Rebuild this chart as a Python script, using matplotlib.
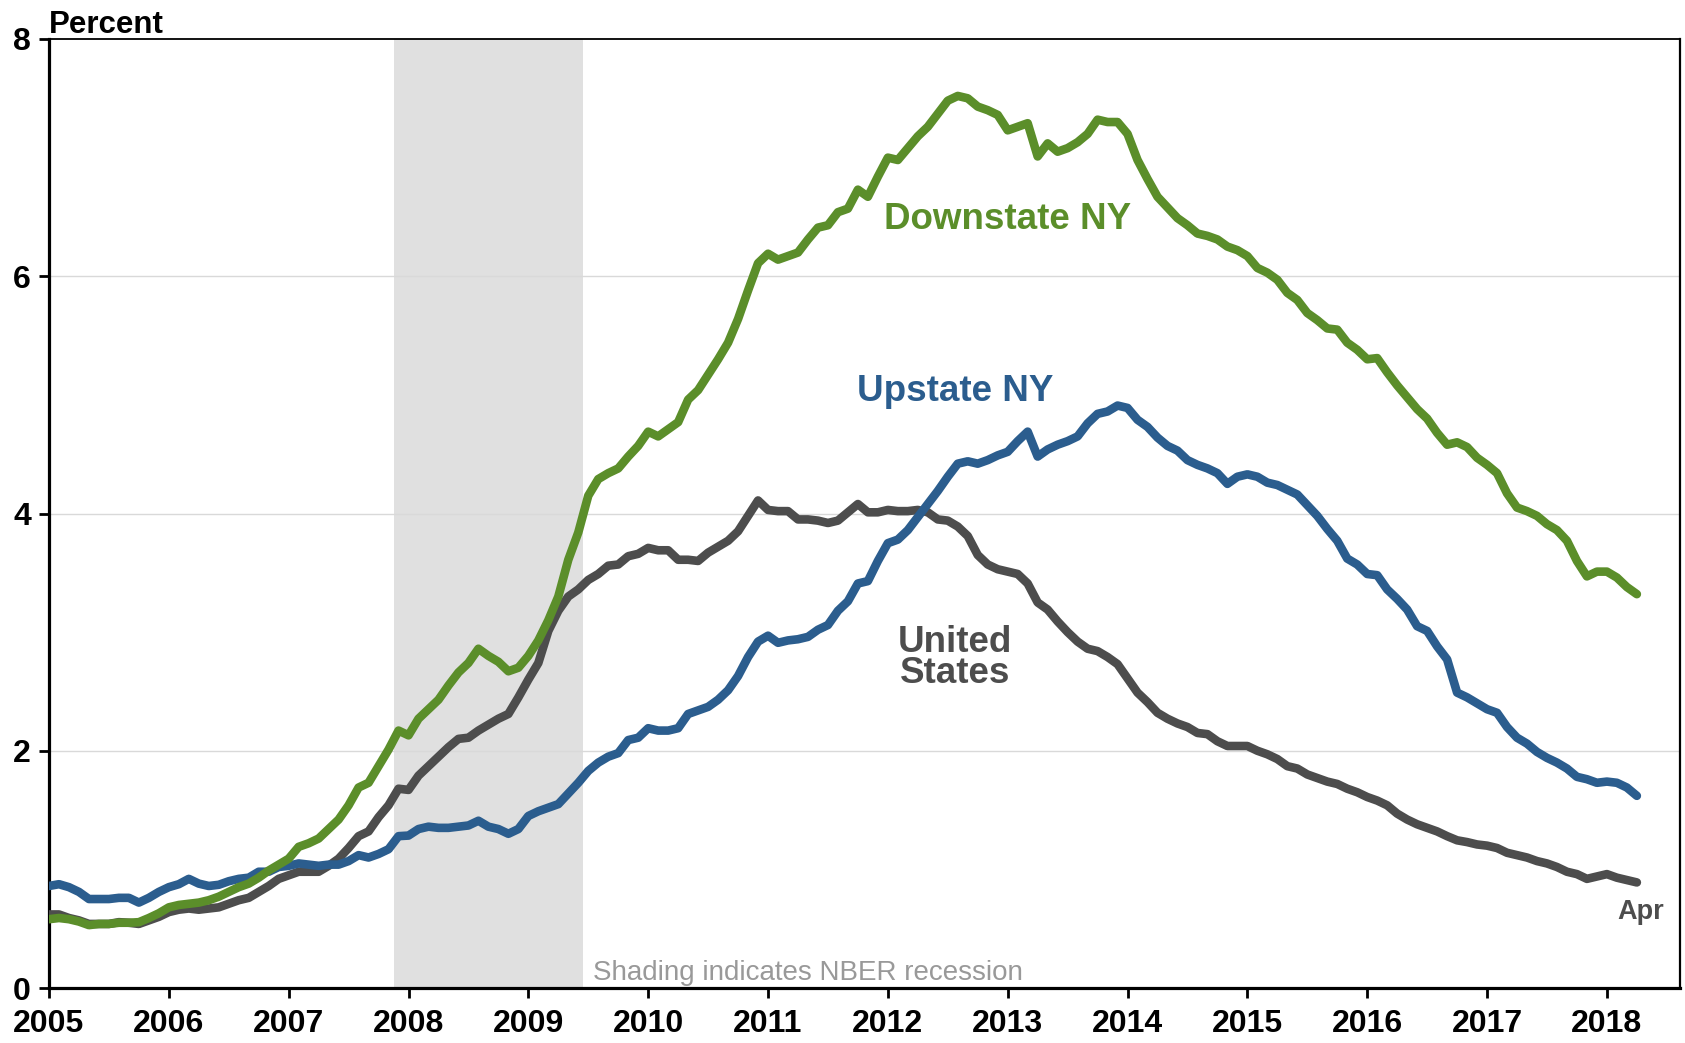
import numpy as np
import matplotlib
matplotlib.use("Agg")
import matplotlib.pyplot as plt

plt.rcParams['font.family'] = ['Liberation Sans', 'DejaVu Sans']

START_YEAR = 2005

# monthly values, Jan 2005 - Apr 2018 (percent)
united_states = [
    0.62, 0.62, 0.59, 0.57, 0.54, 0.54, 0.54, 0.555, 0.55, 0.54, 0.57, 0.60,
    0.64, 0.66, 0.67, 0.66, 0.67, 0.68, 0.71, 0.74, 0.76, 0.81, 0.86, 0.92,
    0.95, 0.98, 0.98, 0.98, 1.03, 1.09, 1.18, 1.28, 1.32, 1.44, 1.54, 1.68,
    1.67, 1.79, 1.87, 1.95, 2.03, 2.10, 2.11, 2.17, 2.22, 2.27, 2.31, 2.45,
    2.60, 2.74, 3.01, 3.18, 3.30, 3.36, 3.44, 3.49, 3.56, 3.57, 3.64, 3.66,
    3.71, 3.69, 3.69, 3.61, 3.61, 3.60, 3.67, 3.72, 3.77, 3.85, 3.98, 4.11,
    4.03, 4.02, 4.02, 3.95, 3.95, 3.94, 3.92, 3.94, 4.01, 4.08, 4.01, 4.01,
    4.03, 4.02, 4.02, 4.03, 4.01, 3.95, 3.94, 3.89, 3.81, 3.65, 3.57, 3.53,
    3.51, 3.49, 3.41, 3.25, 3.19, 3.09, 3.00, 2.92, 2.86, 2.84, 2.79, 2.73,
    2.61, 2.49, 2.41, 2.32, 2.27, 2.23, 2.20, 2.15, 2.14, 2.08, 2.04, 2.04,
    2.04, 2.00, 1.97, 1.93, 1.87, 1.85, 1.80, 1.77, 1.74, 1.72, 1.68, 1.65,
    1.61, 1.58, 1.54, 1.47, 1.42, 1.38, 1.35, 1.32, 1.28, 1.245, 1.23, 1.21,
    1.20, 1.18, 1.14, 1.12, 1.10, 1.07, 1.05, 1.02, 0.98, 0.96, 0.92, 0.94,
    0.96, 0.93, 0.91, 0.89,
]

upstate_ny = [
    0.86, 0.875, 0.85, 0.81, 0.75, 0.75, 0.75, 0.76, 0.76, 0.72, 0.76, 0.81,
    0.85, 0.875, 0.92, 0.88, 0.86, 0.87, 0.90, 0.92, 0.93, 0.98, 0.98, 1.02,
    1.03, 1.05, 1.04, 1.03, 1.04, 1.04, 1.07, 1.12, 1.10, 1.13, 1.17, 1.28,
    1.285, 1.34, 1.36, 1.35, 1.35, 1.36, 1.37, 1.41, 1.36, 1.34, 1.30, 1.34,
    1.45, 1.49, 1.52, 1.55, 1.64, 1.73, 1.83, 1.90, 1.95, 1.98, 2.09, 2.11,
    2.19, 2.17, 2.17, 2.19, 2.31, 2.34, 2.37, 2.43, 2.51, 2.63, 2.79, 2.92,
    2.97, 2.91, 2.93, 2.94, 2.96, 3.02, 3.06, 3.18, 3.26, 3.41, 3.43, 3.60,
    3.75, 3.78, 3.86, 3.97, 4.08, 4.19, 4.31, 4.42, 4.44, 4.42, 4.45, 4.49,
    4.52, 4.61, 4.69, 4.48, 4.54, 4.58, 4.61, 4.65, 4.76, 4.84, 4.86, 4.91,
    4.89, 4.79, 4.73, 4.64, 4.57, 4.53, 4.45, 4.41, 4.38, 4.34, 4.25, 4.31,
    4.33, 4.31, 4.26, 4.24, 4.20, 4.16, 4.07, 3.98, 3.87, 3.77, 3.62, 3.57,
    3.49, 3.48, 3.36, 3.28, 3.19, 3.05, 3.01, 2.88, 2.77, 2.49, 2.45, 2.40,
    2.35, 2.32, 2.20, 2.11, 2.06, 1.99, 1.94, 1.90, 1.85, 1.78, 1.76, 1.73,
    1.74, 1.73, 1.69, 1.62,
]

downstate_ny = [
    0.58, 0.59, 0.58, 0.56, 0.53, 0.54, 0.54, 0.55, 0.55, 0.555, 0.59, 0.63,
    0.68, 0.70, 0.71, 0.72, 0.74, 0.77, 0.81, 0.85, 0.88, 0.93, 0.99, 1.04,
    1.09, 1.19, 1.22, 1.26, 1.34, 1.42, 1.54, 1.69, 1.73, 1.87, 2.01, 2.17,
    2.13, 2.27, 2.35, 2.43, 2.55, 2.66, 2.74, 2.86, 2.80, 2.75, 2.67, 2.70,
    2.80, 2.93, 3.10, 3.30, 3.61, 3.84, 4.15, 4.29, 4.34, 4.38, 4.48, 4.57,
    4.69, 4.65, 4.71, 4.77, 4.96, 5.04, 5.17, 5.30, 5.44, 5.64, 5.88, 6.11,
    6.19, 6.14, 6.17, 6.20, 6.31, 6.41, 6.43, 6.54, 6.57, 6.73, 6.67, 6.84,
    7.00, 6.98, 7.08, 7.18, 7.26, 7.37, 7.48, 7.52, 7.50, 7.43, 7.40, 7.36,
    7.23, 7.26, 7.29, 7.01, 7.12, 7.05, 7.08, 7.13, 7.20, 7.32, 7.30, 7.30,
    7.20, 6.98, 6.82, 6.67, 6.58, 6.49, 6.43, 6.36, 6.34, 6.31, 6.25, 6.22,
    6.17, 6.07, 6.03, 5.97, 5.86, 5.80, 5.69, 5.63, 5.56, 5.55, 5.44, 5.38,
    5.30, 5.31, 5.19, 5.08, 4.98, 4.88, 4.80, 4.68, 4.58, 4.60, 4.56, 4.47,
    4.41, 4.34, 4.17, 4.05, 4.02, 3.98, 3.91, 3.86, 3.77, 3.60, 3.47, 3.51,
    3.51, 3.46, 3.38, 3.32,
]

# NBER recession Dec 2007 - Jun 2009
recession = (2007 + 10.5 / 12, 2009 + 5.5 / 12)

year_ticks = list(range(2005, 2019))
y_ticks = [0, 2, 4, 6, 8]

GREEN = "#5b8e2a"
BLUE = "#2b5d8e"
GRAY = "#4d4d4d"

t = START_YEAR + np.arange(len(united_states)) / 12.0

fig = plt.figure(figsize=(16.85, 10.43), dpi=100)
ax = fig.add_axes([49 / 1685, 55 / 1043, 1631 / 1685, 949 / 1043])

ax.axvspan(*recession, color="#e0e0e0", lw=0, zorder=0)
for v in y_ticks[1:-1]:
    ax.axhline(v, color="#d9d9d9", lw=1.0, zorder=1)

kw = dict(lw=6.2, solid_capstyle="round", solid_joinstyle="round", zorder=3)
ax.plot(t, united_states, color=GRAY, **kw)
ax.plot(t, upstate_ny, color=BLUE, **kw)
ax.plot(t, downstate_ny, color=GREEN, **kw)

ax.set_xlim(2005, 2018.61)
ax.set_ylim(0, 8)
ax.set_xticks(year_ticks)
ax.set_xticklabels([str(y) for y in year_ticks])
ax.set_yticks(y_ticks)
ax.tick_params(axis="both", direction="out", length=7, width=2,
               labelsize=23, colors="black")
ax.tick_params(axis="x", pad=8)
ax.tick_params(axis="y", pad=6)
for lab in ax.get_xticklabels() + ax.get_yticklabels():
    lab.set_fontweight("bold")

ax.spines["left"].set_linewidth(2.3)
ax.spines["bottom"].set_linewidth(2.3)
ax.spines["top"].set_linewidth(1.3)
ax.spines["right"].set_linewidth(1.6)

ax.text(0.0, 0.999, "Percent", transform=ax.transAxes, ha="left", va="bottom",
        fontsize=22.5, fontweight="bold")

ax.text(2013.0, 6.48, "Downstate NY", color=GREEN, fontsize=26.5,
        fontweight="bold", ha="center", va="center")
ax.text(2012.56, 5.03, "Upstate NY", color=BLUE, fontsize=26.5,
        fontweight="bold", ha="center", va="center")
ax.text(2012.56, 2.78, "United\nStates", color=GRAY, fontsize=26.5,
        fontweight="bold", ha="center", va="center", linespacing=0.85)
ax.text(2018.28, 0.64, "Apr", color=GRAY, fontsize=19.5,
        fontweight="bold", ha="center", va="center")
ax.text(2009.54, 0.13, "Shading indicates NBER recession", color="#999999",
        fontsize=20, ha="left", va="center")

fig.savefig("out.png", dpi=100)
